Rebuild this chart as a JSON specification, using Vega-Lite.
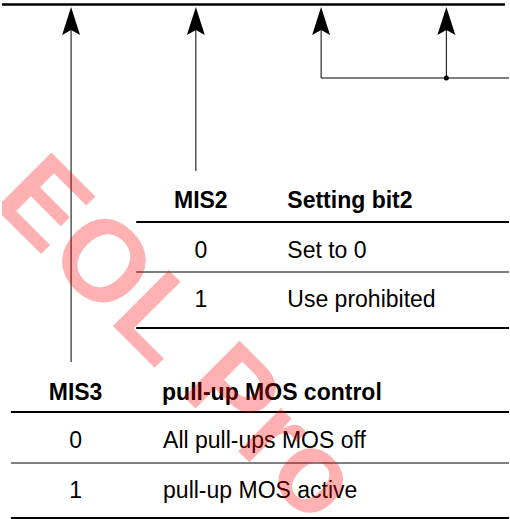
{
  "$schema": "https://vega.github.io/schema/vega-lite/v6.json",
  "width": 510,
  "height": 519,
  "padding": 0,
  "autosize": {"type": "fit", "contains": "padding"},
  "background": "#ffffff",
  "config": {"view": {"stroke": null}, "font": "Liberation Sans"},
  "datasets": {
    "bar": [{"x": 0, "x2": 506, "y": 4.5, "y2": 4.5}],
    "thick": [
      {"x": 135, "x2": 510, "y": 222, "y2": 222},
      {"x": 135, "x2": 510, "y": 328, "y2": 328},
      {"x": 9, "x2": 510, "y": 412, "y2": 412},
      {"x": 9, "x2": 510, "y": 518, "y2": 518}
    ],
    "thin": [
      {"x": 135, "x2": 510, "y": 272, "y2": 272},
      {"x": 9, "x2": 510, "y": 463, "y2": 463}
    ],
    "wires": [
      {"x": 69.5, "x2": 69.5, "y": 30, "y2": 362},
      {"x": 195, "x2": 195, "y": 30, "y2": 171},
      {"x": 321, "x2": 321, "y": 30, "y2": 78},
      {"x": 447, "x2": 447, "y": 30, "y2": 78},
      {"x": 321, "x2": 510, "y": 78, "y2": 78}
    ],
    "heads": [
      {"x": 69.5, "y": 21},
      {"x": 195, "y": 21},
      {"x": 321, "y": 21},
      {"x": 447, "y": 21}
    ],
    "dots": [{"x": 447, "y": 78}],
    "codeHeads": [
      {"x": 200, "y": 208, "t": "MIS2"},
      {"x": 74, "y": 400, "t": "MIS3"}
    ],
    "descHeads": [
      {"x": 287, "y": 208, "t": "Setting bit2"},
      {"x": 161, "y": 400, "t": "pull-up MOS control"}
    ],
    "codes": [
      {"x": 200, "y": 258, "t": "0"},
      {"x": 200, "y": 307, "t": "1"},
      {"x": 74, "y": 448, "t": "0"},
      {"x": 74, "y": 498, "t": "1"}
    ],
    "descs": [
      {"x": 287, "y": 258, "t": "Set to 0"},
      {"x": 287, "y": 307, "t": "Use prohibited"},
      {"x": 162, "y": 448, "t": "All pull-ups MOS off"},
      {"x": 162, "y": 498, "t": "pull-up MOS active"}
    ],
    "mark": [{"x": -12, "y": 203, "t": "EOL Pro"}]
  },
  "encoding": {
    "x": {"field": "x", "type": "quantitative", "axis": null, "scale": {"domain": [0, 510], "nice": false, "zero": false}},
    "y": {"field": "y", "type": "quantitative", "axis": null, "scale": {"domain": [0, 519], "nice": false, "zero": false, "reverse": true}}
  },
  "layer": [
    {
      "data": {"name": "bar"},
      "mark": {"type": "rule", "color": "#000000", "strokeWidth": 2.5},
      "encoding": {"x2": {"field": "x2"}, "y2": {"field": "y2"}}
    },
    {
      "data": {"name": "thick"},
      "mark": {"type": "rule", "color": "#000000", "strokeWidth": 2},
      "encoding": {"x2": {"field": "x2"}, "y2": {"field": "y2"}}
    },
    {
      "data": {"name": "thin"},
      "mark": {"type": "rule", "color": "#000000", "strokeWidth": 1},
      "encoding": {"x2": {"field": "x2"}, "y2": {"field": "y2"}}
    },
    {
      "data": {"name": "wires"},
      "mark": {"type": "rule", "color": "#000000", "strokeWidth": 1},
      "encoding": {"x2": {"field": "x2"}, "y2": {"field": "y2"}}
    },
    {
      "data": {"name": "heads"},
      "mark": {"type": "point", "shape": "M0,-1L0.64,1L0,0.64L-0.64,1Z", "size": 784, "filled": true, "color": "#000000", "opacity": 1, "strokeWidth": 0}
    },
    {
      "data": {"name": "dots"},
      "mark": {"type": "point", "shape": "circle", "size": 25, "filled": true, "color": "#000000", "opacity": 1}
    },
    {
      "data": {"name": "codeHeads"},
      "mark": {"type": "text", "align": "center", "baseline": "alphabetic", "fontSize": 23, "fontWeight": "bold", "color": "#000000"},
      "encoding": {"text": {"field": "t"}}
    },
    {
      "data": {"name": "descHeads"},
      "mark": {"type": "text", "align": "left", "baseline": "alphabetic", "fontSize": 23, "fontWeight": "bold", "color": "#000000"},
      "encoding": {"text": {"field": "t"}}
    },
    {
      "data": {"name": "codes"},
      "mark": {"type": "text", "align": "center", "baseline": "alphabetic", "fontSize": 23, "color": "#000000"},
      "encoding": {"text": {"field": "t"}}
    },
    {
      "data": {"name": "descs"},
      "mark": {"type": "text", "align": "left", "baseline": "alphabetic", "fontSize": 23, "color": "#000000"},
      "encoding": {"text": {"field": "t"}}
    },
    {
      "data": {"name": "mark"},
      "mark": {"type": "text", "align": "left", "baseline": "alphabetic", "angle": 45, "fontSize": 115, "fontWeight": "bold", "color": "#ff0000", "opacity": 0.3, "clip": true},
      "encoding": {"text": {"field": "t"}}
    }
  ]
}
